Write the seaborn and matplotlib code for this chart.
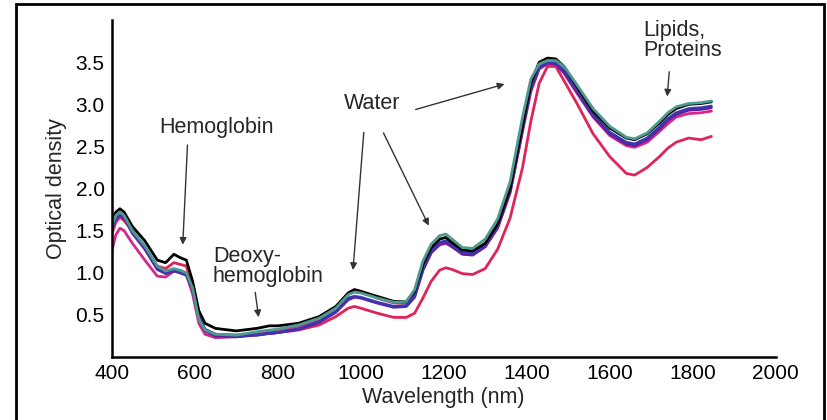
import numpy as np
import pandas as pd
import matplotlib
matplotlib.use("Agg")
import matplotlib.pyplot as plt
import seaborn as sns
from matplotlib.patches import Rectangle

# wavelengths (nm) shared by every spectrum
wavelength = [400, 410, 420, 430, 450, 480, 510, 530, 550, 565, 580, 595, 610, 625, 650,
              700, 750, 780, 800, 850, 900, 940, 970, 985, 1000, 1040, 1080, 1110, 1130,
              1150, 1170, 1190, 1205, 1220, 1245, 1270, 1300, 1330, 1360, 1390, 1410, 1430,
              1450, 1470, 1490, 1520, 1560, 1600, 1640, 1660, 1690, 1720, 1740, 1760, 1790,
              1820, 1845]

od_black = [1.60, 1.72, 1.76, 1.72, 1.55, 1.38, 1.15, 1.12, 1.22, 1.18, 1.15, 0.90, 0.55, 0.40, 0.34,
            0.31, 0.34, 0.37, 0.37, 0.40, 0.48, 0.60, 0.76, 0.80, 0.78, 0.72, 0.66, 0.66, 0.78,
            1.10, 1.30, 1.40, 1.42, 1.36, 1.27, 1.26, 1.35, 1.58, 2.00, 2.75, 3.25, 3.50,
            3.55, 3.54, 3.45, 3.22, 2.92, 2.72, 2.60, 2.58, 2.65, 2.78, 2.88, 2.95, 3.00,
            3.01, 3.03]

od_teal = [1.55, 1.68, 1.72, 1.68, 1.50, 1.32, 1.08, 1.02, 1.05, 1.03, 1.00, 0.82, 0.45, 0.32, 0.27,
           0.26, 0.30, 0.32, 0.33, 0.38, 0.46, 0.58, 0.74, 0.77, 0.76, 0.70, 0.65, 0.66, 0.80,
           1.14, 1.34, 1.44, 1.46, 1.40, 1.30, 1.29, 1.40, 1.64, 2.08, 2.85, 3.30, 3.48,
           3.52, 3.52, 3.45, 3.24, 2.95, 2.74, 2.61, 2.59, 2.66, 2.80, 2.90, 2.97, 3.01,
           3.02, 3.04]

od_blue = [1.50, 1.64, 1.70, 1.66, 1.48, 1.30, 1.06, 1.00, 1.03, 1.00, 0.98, 0.82, 0.48, 0.33, 0.27,
           0.25, 0.26, 0.28, 0.29, 0.33, 0.42, 0.54, 0.70, 0.72, 0.71, 0.65, 0.60, 0.61, 0.72,
           1.05, 1.26, 1.36, 1.38, 1.33, 1.24, 1.23, 1.33, 1.56, 1.98, 2.72, 3.20, 3.44,
           3.50, 3.49, 3.40, 3.18, 2.88, 2.67, 2.55, 2.53, 2.60, 2.73, 2.83, 2.90, 2.95,
           2.96, 2.98]

od_purple = [1.52, 1.64, 1.68, 1.65, 1.47, 1.28, 1.04, 0.99, 1.02, 1.00, 0.97, 0.80, 0.46, 0.31, 0.25,
             0.24, 0.26, 0.28, 0.29, 0.33, 0.41, 0.53, 0.68, 0.71, 0.70, 0.64, 0.59, 0.60, 0.71,
             1.03, 1.24, 1.34, 1.36, 1.31, 1.22, 1.21, 1.31, 1.54, 1.96, 2.70, 3.18, 3.43,
             3.49, 3.48, 3.38, 3.16, 2.86, 2.65, 2.53, 2.51, 2.58, 2.71, 2.81, 2.88, 2.93,
             2.94, 2.96]

od_magenta = [1.25, 1.45, 1.53, 1.50, 1.35, 1.15, 0.96, 0.95, 1.02, 1.03, 0.98, 0.75, 0.40, 0.27, 0.23,
              0.24, 0.27, 0.30, 0.31, 0.35, 0.44, 0.58, 0.76, 0.80, 0.78, 0.70, 0.64, 0.64, 0.74,
              1.04, 1.24, 1.33, 1.35, 1.31, 1.23, 1.22, 1.31, 1.53, 1.95, 2.68, 3.15, 3.42,
              3.48, 3.47, 3.37, 3.14, 2.85, 2.63, 2.51, 2.49, 2.55, 2.68, 2.77, 2.85, 2.89,
              2.90, 2.92]

od_crimson = [1.45, 1.60, 1.66, 1.62, 1.50, 1.30, 1.08, 1.05, 1.12, 1.10, 1.08, 0.82, 0.45, 0.32, 0.27,
              0.26, 0.27, 0.28, 0.29, 0.32, 0.38, 0.48, 0.58, 0.60, 0.58, 0.52, 0.47, 0.47, 0.52,
              0.70, 0.90, 1.03, 1.06, 1.04, 0.99, 0.98, 1.05, 1.28, 1.65, 2.25, 2.80, 3.25,
              3.45, 3.45, 3.28, 3.02, 2.65, 2.38, 2.18, 2.16, 2.25, 2.38, 2.48, 2.55, 2.60,
              2.58, 2.62]

series = {
    "crimson": od_crimson,
    "magenta": od_magenta,
    "purple": od_purple,
    "blue": od_blue,
    "black": od_black,
    "teal": od_teal,
}
colors = {
    "crimson": "#e0245a",
    "magenta": "#d0288c",
    "purple": "#6a1b9a",
    "blue": "#3b36b0",
    "black": "#000000",
    "teal": "#4f9a8e",
}

df = pd.concat(
    [pd.DataFrame({"wl": wavelength, "od": v, "sample": k}) for k, v in series.items()],
    ignore_index=True,
)

sns.set_style("white")
plt.rcParams["font.family"] = ["Liberation Sans", "DejaVu Sans"]

fig = plt.figure(figsize=(8.27, 4.2), dpi=100)
ax = fig.add_axes([0.135, 0.15, 0.803, 0.802])

sns.lineplot(data=df, x="wl", y="od", hue="sample", palette=colors,
             linewidth=2.0, legend=False, ax=ax, sort=False)

ax.set_xlim(400, 2000)
ax.set_ylim(0, 4.0)
ax.set_xticks(np.arange(400, 2001, 200))
ax.set_yticks([0.5, 1.0, 1.5, 2.0, 2.5, 3.0, 3.5])
ax.set_yticklabels(["0.5", "1.0", "1.5", "2.0", "2.5", "3.0", "3.5"])
ax.tick_params(direction="in", length=5, width=1.3, labelsize=15, colors="black", pad=5)
ax.set_xlabel("Wavelength (nm)", fontsize=15.5, labelpad=3)
ax.set_ylabel("Optical density", fontsize=15.5, labelpad=6)
for s in ["top", "right"]:
    ax.spines[s].set_visible(False)
for s in ["left", "bottom"]:
    ax.spines[s].set_linewidth(1.8)
    ax.spines[s].set_color("black")

arrow = dict(arrowstyle="-|>", color="#333333", lw=1.0, mutation_scale=10)
fs = 15.5

ax.text(653, 2.73, "Hemoglobin", fontsize=fs, ha="center", va="center")
ax.annotate("", xy=(571, 1.30), xytext=(583, 2.55), arrowprops=arrow)

ax.text(644, 1.07, "Deoxy-\nhemoglobin", fontsize=fs, ha="left", va="center", linespacing=0.95)
ax.annotate("", xy=(755, 0.44), xytext=(745, 0.80), arrowprops=arrow)

ax.text(1027, 3.01, "Water", fontsize=fs, ha="center", va="center")
ax.annotate("", xy=(981, 1.00), xytext=(1008, 2.70), arrowprops=arrow)
ax.annotate("", xy=(1167, 1.53), xytext=(1052, 2.69), arrowprops=arrow)
ax.annotate("", xy=(1353, 3.25), xytext=(1126, 2.93), arrowprops=arrow)

ax.text(1681, 3.76, "Lipids,\nProteins", fontsize=fs, ha="left", va="center", linespacing=0.95)
ax.annotate("", xy=(1738, 3.06), xytext=(1744, 3.42), arrowprops=arrow)

# outer frame around the figure
fig.patches.append(Rectangle((0.019, -0.05), 0.977, 1.04, transform=fig.transFigure,
                             fill=False, edgecolor="black", linewidth=2.0))

fig.savefig("out.png", dpi=100)
